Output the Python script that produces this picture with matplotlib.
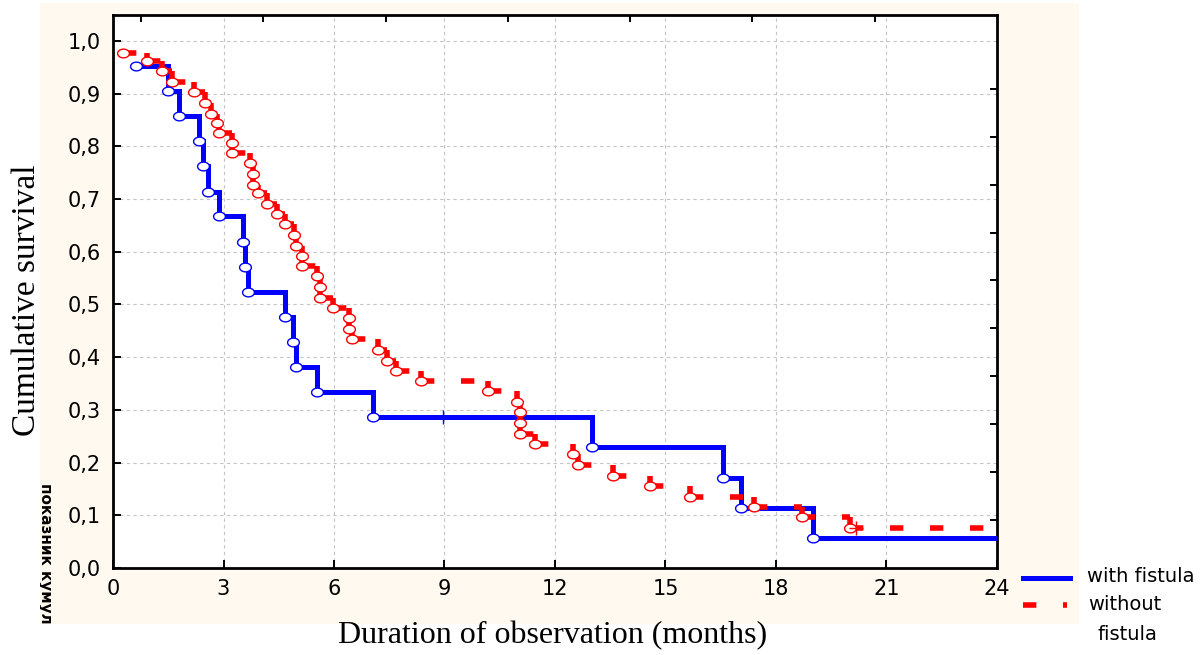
import numpy as np
import matplotlib.pyplot as plt
from matplotlib.patches import Rectangle
from matplotlib.lines import Line2D

# Kaplan-Meier estimates (event time in months, survival after the event)
with_t = [0.62, 1.49, 1.78, 2.34, 2.44, 2.57, 2.87, 3.52, 3.58, 3.66, 4.68, 4.90, 4.97,
          5.55, 7.07, 13.0, 16.55, 17.04, 19.0]
with_s = [0.952, 0.905, 0.857, 0.810, 0.762, 0.714, 0.667, 0.619, 0.571, 0.524, 0.476,
          0.429, 0.381, 0.333, 0.286, 0.229, 0.171, 0.114, 0.057]
with_cens_t = [8.96]
with_cens_s = [0.286]

without_t = [0.28, 0.92, 1.34, 1.59, 2.21, 2.50, 2.66, 2.81, 2.88, 3.23, 3.23, 3.73, 3.81,
             3.81, 3.95, 4.17, 4.46, 4.67, 4.91, 4.97, 5.12, 5.12, 5.55, 5.62, 5.62, 5.98,
             6.42, 6.42, 6.48, 7.20, 7.43, 7.69, 8.36, 10.17, 10.96, 11.05, 11.05, 11.05,
             11.46, 12.48, 12.63, 13.57, 14.58, 15.67, 17.40, 18.70, 20.01]
without_s = [0.977, 0.961, 0.942, 0.921, 0.902, 0.882, 0.861, 0.845, 0.826, 0.807, 0.787,
             0.768, 0.748, 0.727, 0.712, 0.690, 0.671, 0.652, 0.632, 0.611, 0.592, 0.573,
             0.553, 0.533, 0.513, 0.493, 0.474, 0.454, 0.434, 0.414, 0.393, 0.374, 0.355,
             0.335, 0.314, 0.295, 0.275, 0.254, 0.235, 0.216, 0.195, 0.175, 0.156, 0.135,
             0.116, 0.097, 0.076]
without_cens_t = [20.17]
without_cens_s = [0.076]

x_end = 24
x_ticks = [0, 3, 6, 9, 12, 15, 18, 21, 24]
y_ticks = [0.0, 0.1, 0.2, 0.3, 0.4, 0.5, 0.6, 0.7, 0.8, 0.9, 1.0]
y_ticklabels = [f"{v:.1f}".replace(".", ",") for v in y_ticks]

blue = "#0000FF"
red = "#FF0000"
cream = "#FFF9EF"

# slightly flattened circle, like the stretched original
theta = np.linspace(0, 2 * np.pi, 41)
oval = np.column_stack([np.cos(theta), 0.74 * np.sin(theta)])

fig = plt.figure(figsize=(12.03, 6.55), dpi=100)
bg = Rectangle((40 / 1203, 31 / 655), 1039 / 1203, 621 / 655,
               transform=fig.transFigure, facecolor=cream, edgecolor="none", zorder=-1)
fig.patches.append(bg)

ax = fig.add_axes([113 / 1203, 87 / 655, 884 / 1203, 553 / 655])
ax.set_facecolor("white")
ax.set_xlim(0, x_end)
ax.set_ylim(0, 1.049)

ax.grid(True, color="#C4C4C4", linestyle=(0, (3, 3)), linewidth=0.8)
ax.set_axisbelow(True)

# with fistula: solid step line
ax.step(with_t + [x_end], with_s + [with_s[-1]], where="post",
        color=blue, linewidth=3.6, solid_joinstyle="miter", zorder=3)
ax.plot(with_t, with_s, linestyle="none", marker=oval, markersize=8.5,
        markerfacecolor="white", markeredgecolor=blue, markeredgewidth=1, zorder=5)
ax.plot(with_cens_t, with_cens_s, linestyle="none", marker="+", markersize=10,
        color=blue, markeredgewidth=1, zorder=5)

# without fistula: each step segment dashed on its own, as in the original
red_kw = dict(color=red, linewidth=4, dashes=(2.4, 4.8), dash_capstyle="butt", zorder=3)
for i in range(len(without_t)):
    t_next = without_t[i + 1] if i + 1 < len(without_t) else x_end
    ax.plot([without_t[i], t_next], [without_s[i], without_s[i]], **red_kw)
    if i + 1 < len(without_t):
        ax.plot([t_next, t_next], [without_s[i], without_s[i + 1]], **red_kw)
ax.plot(without_t, without_s, linestyle="none", marker=oval, markersize=8.5,
        markerfacecolor="white", markeredgecolor=red, markeredgewidth=1, zorder=4)
ax.plot(without_cens_t, without_cens_s, linestyle="none", marker="+", markersize=10,
        color=red, markeredgewidth=1, zorder=5)

ax.set_xticks(x_ticks)
ax.set_xticklabels([str(v) for v in x_ticks])
ax.set_yticks(y_ticks)
ax.set_yticklabels(y_ticklabels)
ax.tick_params(direction="in", length=6, width=1.4, labelsize=15, colors="black")
ax.tick_params(axis="x", pad=8)
ax.tick_params(axis="y", pad=9)
for sp in ax.spines.values():
    sp.set_linewidth(2)

# the original frame also carries unlabeled ticks on top and right at its own spacing
ax_top = ax.twiny()
ax_top.set_xlim(0, x_end)
ax_top.set_xticks([x_end - k * 3.32 for k in range(1, 8)])
ax_top.set_xticklabels([])
ax_top.tick_params(direction="in", length=5, width=1.4)
ax_right = ax.twinx()
ax_right.set_ylim(0, 1.049)
ax_right.set_yticks([k / 11 for k in range(1, 11)])
ax_right.set_yticklabels([])
ax_right.tick_params(direction="in", length=5, width=1.4)
for a in (ax_top, ax_right):
    a.grid(False)
    for sp in a.spines.values():
        sp.set_visible(False)

fig.text(27 / 1203, 1 - 300 / 655, "Cumulative survival", rotation=90,
         ha="center", va="center", fontsize=24, family="Liberation Serif")
fig.text(553 / 1203, 1 - 636 / 655, "Duration of observation (months)",
         ha="center", va="center", fontsize=23, family="Liberation Serif")

# leftover of the original axis title, partly hidden
t = fig.text(45 / 1203, 1 - 483 / 655, "показник кумул", rotation=-90,
             ha="center", va="top", fontsize=11, fontweight="bold")
t.set_clip_path(bg)

# legend drawn by hand, outside the chart frame
fig.lines.append(Line2D([1023 / 1203, 1070 / 1203], [1 - 578 / 655, 1 - 578 / 655],
                        transform=fig.transFigure, color=blue, linewidth=3.6))
fig.lines.append(Line2D([1023 / 1203, 1067 / 1203], [1 - 605 / 655, 1 - 605 / 655],
                        transform=fig.transFigure, color=red, linewidth=4,
                        dashes=(2.4, 4.8), dash_capstyle="butt"))
fig.text(1087 / 1203, 1 - 577 / 655, "with fistula", ha="left", va="center", fontsize=14)
fig.text(1088 / 1203, 1 - 605 / 655, "without", ha="left", va="center", fontsize=14)
fig.text(1097 / 1203, 1 - 634 / 655, "fistula", ha="left", va="center", fontsize=14)

fig.savefig("out.png", dpi=100, facecolor="white")
